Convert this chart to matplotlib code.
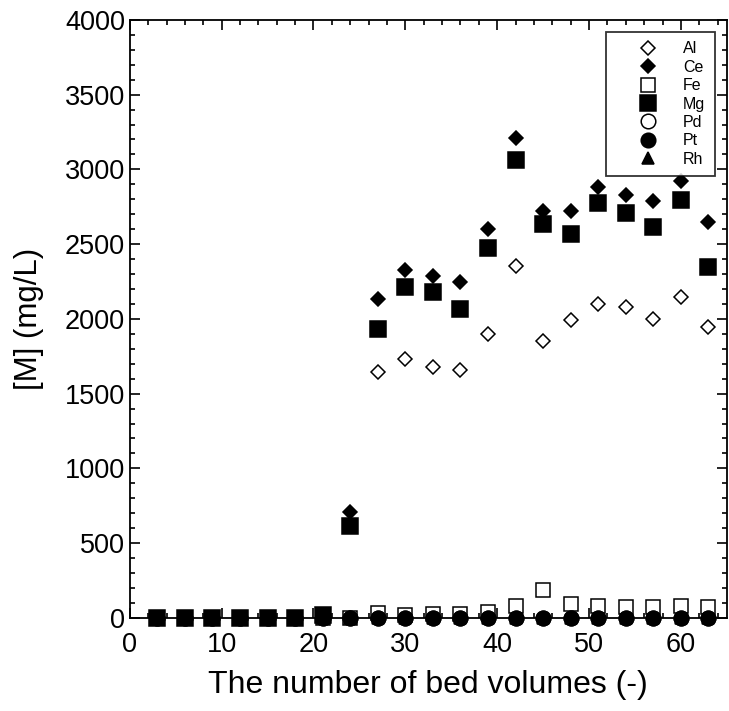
import matplotlib
matplotlib.use("Agg")
import matplotlib.pyplot as plt
from matplotlib.ticker import MultipleLocator

plt.rcParams["font.family"] = ["Liberation Sans", "DejaVu Sans"]

bed_volumes = [3, 6, 9, 12, 15, 18, 21, 24, 27, 30, 33, 36, 39, 42, 45, 48, 51, 54, 57, 60, 63]

al = [0, 0, 0, 0, 0, 0, 0, 0, 1645, 1730, 1680, 1655, 1900, 2355, 1855, 1990, 2100, 2080, 2000, 2145, 1945]
ce = [0, 0, 0, 0, 0, 0, 0, 710, 2130, 2330, 2290, 2245, 2600, 3210, 2720, 2720, 2880, 2830, 2790, 2920, 2645]
fe = [0, 0, 0, 0, 0, 0, 0, 0, 30, 22, 28, 28, 38, 76, 188, 96, 82, 73, 73, 82, 73]
mg = [0, 0, 0, 0, 0, 0, 20, 615, 1935, 2215, 2180, 2065, 2475, 3065, 2635, 2570, 2775, 2710, 2615, 2795, 2345]
pd_ = [0] * 21
pt = [0] * 21
rh = [0] * 21

series = [
    ("Al", al, dict(marker="D", ms=7.5, mfc="white", mec="black", mew=1.1)),
    ("Ce", ce, dict(marker="D", ms=7.5, mfc="black", mec="black", mew=1.1)),
    ("Fe", fe, dict(marker="s", ms=10, mfc="white", mec="black", mew=1.1)),
    ("Mg", mg, dict(marker="s", ms=11.5, mfc="black", mec="black", mew=1.1)),
    ("Pd", pd_, dict(marker="o", ms=10.5, mfc="white", mec="black", mew=1.1)),
    ("Pt", pt, dict(marker="o", ms=10.5, mfc="black", mec="black", mew=1.1)),
    ("Rh", rh, dict(marker="^", ms=9, mfc="black", mec="black", mew=1.1)),
]

fig = plt.figure(figsize=(7.29, 7.11), dpi=100)
ax = fig.add_axes([0.178, 0.131, 0.819, 0.841])

for name, vals, style in series:
    ax.plot(bed_volumes, vals, linestyle="none", label=name, clip_on=False, **style)

ax.set_xlim(0, 65)
ax.set_ylim(0, 4000)
ax.xaxis.set_major_locator(MultipleLocator(10))
ax.xaxis.set_minor_locator(MultipleLocator(2))
ax.yaxis.set_major_locator(MultipleLocator(500))
ax.yaxis.set_minor_locator(MultipleLocator(100))
ax.tick_params(which="both", direction="in", top=True, right=True, width=1.2)
ax.tick_params(which="major", length=7, labelsize=19.5)
ax.tick_params(axis="x", which="major", pad=10)
ax.tick_params(axis="y", which="major", pad=3.5)
ax.tick_params(which="minor", length=3.5)
for sp in ax.spines.values():
    sp.set_linewidth(1.3)

ax.set_xlabel("The number of bed volumes (-)", fontsize=23, labelpad=8.5)
ax.set_ylabel("[M] (mg/L)", fontsize=22.5, labelpad=15)

leg = ax.legend(loc="upper right", bbox_to_anchor=(0.98, 0.98), borderaxespad=0,
                fontsize=11.5, frameon=True, fancybox=False, edgecolor="black",
                handletextpad=0.16, labelspacing=0.21, borderpad=0.6,
                markerscale=1.0, handlelength=4.05)
leg.get_frame().set_linewidth(1.3)

fig.savefig("out.png", dpi=100)
